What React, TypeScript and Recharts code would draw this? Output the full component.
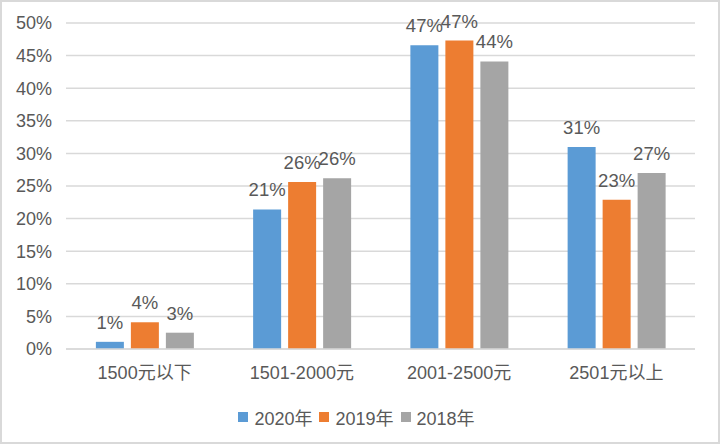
import { BarChart, Bar, XAxis, YAxis, CartesianGrid, Legend, LabelList } from 'recharts';

const categories = ['1500元以下', '1501-2000元', '2001-2500元', '2501元以上'];
const values2020 = [1.1, 21.4, 46.6, 31.0];
const values2019 = [4.1, 25.6, 47.3, 22.9];
const values2018 = [2.5, 26.2, 44.1, 27.0];
const yTicks = [0, 5, 10, 15, 20, 25, 30, 35, 40, 45, 50];

const SERIES = [
    { key: 'y2020', name: '2020年', color: '#5B9BD5' },
    { key: 'y2019', name: '2019年', color: '#ED7D31' },
    { key: 'y2018', name: '2018年', color: '#A5A5A5' },
];

const FONT = '"Liberation Sans", Arial, "Noto Sans CJK SC", sans-serif';
const TEXT = '#595959';

const data = categories.map((name, i) => ({
    name,
    y2020: values2020[i],
    y2019: values2019[i],
    y2018: values2018[i],
}));

function LegendBox() {
    return (
        <div style={{ display: 'flex', justifyContent: 'center', alignItems: 'center', fontFamily: FONT, fontSize: 18, color: TEXT }}>
            {SERIES.map(s => (
                <div key={s.key} style={{ display: 'flex', alignItems: 'center', marginRight: 7 }}>
                    <span style={{ width: 10, height: 10, background: s.color, marginRight: 6, display: 'inline-block' }} />
                    <span>{s.name}</span>
                </div>
            ))}
        </div>
    );
}

export default function App() {
    return (
        <div style={{ position: 'fixed', top: 0, left: 0, width: 720, height: 444, background: '#fff', boxSizing: 'border-box', border: '2px solid #d9d9d9' }}>
            <div style={{ position: 'absolute', top: -2, left: -2 }}>
                <BarChart
                    width={720}
                    height={444}
                    data={data}
                    margin={{ top: 23, right: 25, bottom: 65, left: 0 }}
                    barCategoryGap="19%"
                    barGap={7}
                >
                    <CartesianGrid vertical={false} stroke="#d9d9d9" strokeWidth={1.5} />
                    <XAxis
                        dataKey="name"
                        height={30}
                        tickLine={false}
                        axisLine={{ stroke: '#d9d9d9', strokeWidth: 1.5 }}
                        tickMargin={11}
                        tick={{ fill: TEXT, fontSize: 18, fontFamily: FONT }}
                    />
                    <YAxis
                        width={66}
                        domain={[0, 50]}
                        ticks={yTicks}
                        tickFormatter={(v: number) => `${v}%`}
                        tickLine={false}
                        axisLine={false}
                        tickMargin={8}
                        tick={{ fill: TEXT, fontSize: 18, fontFamily: FONT }}
                    />
                    <Legend
                        verticalAlign="middle"
                        align="center"
                        content={() => <LegendBox />}
                        wrapperStyle={{ top: 404, left: 0, width: 720 }}
                    />
                    {SERIES.map(s => (
                        <Bar key={s.key} dataKey={s.key} name={s.name} fill={s.color} isAnimationActive={false}>
                            <LabelList
                                dataKey={s.key}
                                position="top"
                                offset={13}
                                formatter={(v: number) => `${v.toFixed(0)}%`}
                                style={{ fill: TEXT, fontSize: 18.5, fontFamily: FONT }}
                            />
                        </Bar>
                    ))}
                </BarChart>
            </div>
        </div>
    );
}
